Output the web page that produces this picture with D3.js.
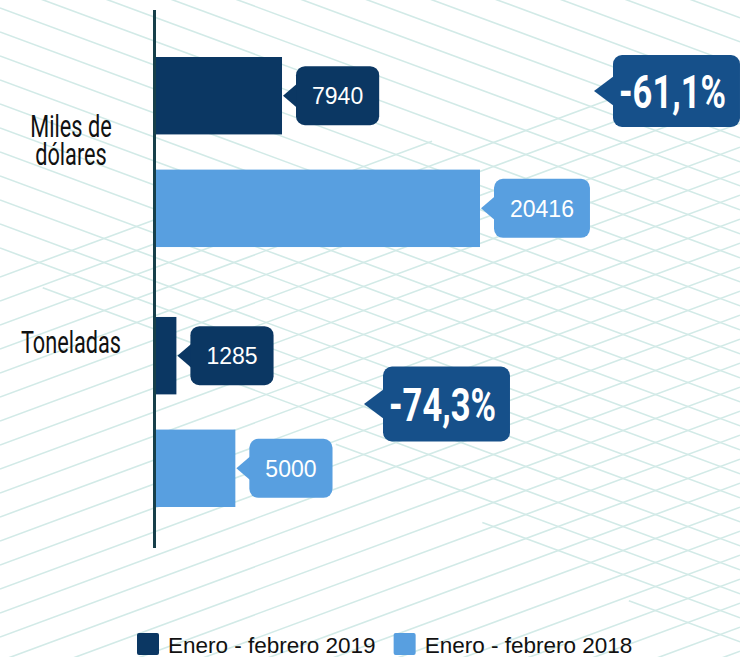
<!DOCTYPE html>
<html>
<head>
<meta charset="utf-8">
<script src="https://cdn.jsdelivr.net/npm/d3@7"></script>
<style>
body { margin: 0; background: #fff; }
svg { display: block; }
</style>
</head>
<body>
<svg id="chart" width="740" height="657"></svg>
<script>
// data
const categories = ["Miles de dólares", "Toneladas"];
const categoryLines = [["Miles de", "dólares"], ["Toneladas"]];
const series = ["Enero - febrero 2019", "Enero - febrero 2018"];
const values2019 = [7940, 1285];
const values2018 = [20416, 5000];
const changes = ["-61,1%", "-74,3%"];

const colors = {"Enero - febrero 2019": "#0b3763", "Enero - febrero 2018": "#589fe0"};
const changeColor = "#16508a";

let width = 740,
    height = 657;

d3.selection.prototype.attrs = function (o) {
    for (let k in o) this.attr(k, o[k]);
    return this;
};

const svg = d3.select("#chart");

// background diamond lines: falling lines on top, rising lines at the bottom / right
function add_background() {
    let slope = 0.37, gap = 24;
    // boundaries: y = a + k * x
    let topEdge = {a: 265, k: 395 / width},
        lowEdge = {a: 262, k: -207 / width};

    let down = d3.range(8 - gap * 14, height + gap, gap).map(b => {
        let x0 = Math.max(0, (b - topEdge.a) / (topEdge.k - slope));
        return {x0: x0, x1: width, b: b, s: slope};
    }).filter(d => d.x0 < d.x1);

    let up = d3.range(13, height + slope * width + gap, gap).map(b => {
        let x1 = Math.min(width, (b - lowEdge.a) / (slope + lowEdge.k));
        return {x0: 0, x1: x1, b: b, s: -slope};
    }).filter(d => d.x0 < d.x1);

    svg.append("g").attr("id", "background")
        .attrs({stroke: "#d2eae7", "stroke-width": 1.6, fill: "none"})
        .selectAll("line")
        .data(down.concat(up))
        .enter().append("line")
        .attrs({
            x1: d => d.x0, y1: d => d.b + d.s * d.x0,
            x2: d => d.x1, y2: d => d.b + d.s * d.x1
        });
}

add_background();

// scales
let rows = [];
categories.forEach((c, i) => {
    rows.push({cat: c, ser: series[0], value: values2019[i]});
    rows.push({cat: c, ser: series[1], value: values2018[i]});
});

let x = d3.scaleLinear()
    .domain([0, d3.max(rows, d => d.value)])
    .range([156, 480]);
let y = d3.scaleBand().domain(categories).range([57, 507]).paddingInner(0.269);
let yi = d3.scaleBand().domain(series).range([0, y.bandwidth()]).paddingInner(0.3125);

// bars
svg.append("g").attr("id", "bars")
    .selectAll("rect")
    .data(rows).enter()
    .append("rect")
    .attrs({
        x: x(0),
        y: d => y(d.cat) + yi(d.ser),
        width: d => x(d.value) - x(0),
        height: yi.bandwidth(),
        fill: d => colors[d.ser]
    });

// axis line
svg.append("line")
    .attrs({x1: x(0) - 1.5, x2: x(0) - 1.5, y1: 10, y2: 548, stroke: "#173f4a", "stroke-width": 3});

// value callouts
let callouts = svg.append("g").attr("id", "callouts")
    .selectAll("g").data(rows).enter().append("g")
    .attr("transform", d => `translate(${x(d.value)},${y(d.cat) + yi(d.ser) + yi.bandwidth() / 2})`);

callouts.each(function (d) {
    let g = d3.select(this);
    let col = colors[d.ser];
    let t = g.append("text")
        .attrs({"font-family": "Liberation Sans, Arial, sans-serif", "font-size": 23, fill: "#fff",
            "text-anchor": "middle", dy: "0.36em"})
        .text(d.value);
    let tw = t.node().getComputedTextLength();
    let bw = tw + 32, bh = 59, left = 14;
    g.insert("path", "text")
        .attrs({d: `M1,0 L${left + 1},-12 L${left + 1},12 Z`, fill: col});
    g.insert("rect", "text")
        .attrs({x: left, y: -bh / 2, width: bw, height: bh, rx: 9, fill: col});
    t.attr("x", left + bw / 2);
});

// percent change callouts (condensed by a horizontal squeeze)
let squeeze = 0.75;
let changePos = [{tip: 594, cy: 91, h: 72}, {tip: 364, cy: 404, h: 75}];
changes.forEach((c, i) => {
    let p = changePos[i];
    let g = svg.append("g").attr("transform", `translate(${p.tip},${p.cy})`);
    let t = g.append("text")
        .attrs({"font-family": "Roboto, sans-serif", "font-weight": 700, "font-size": 46, fill: "#fff",
            "text-anchor": "middle", dy: "0.36em"})
        .text(c);
    let tw = t.node().getComputedTextLength() * squeeze;
    let left = 19, bw = tw + 20;
    t.attr("transform", `translate(${left + bw / 2 - 4},0) scale(${squeeze},1)`);
    g.insert("path", "text")
        .attrs({d: `M0,0 L${left + 1},-15 L${left + 1},15 Z`, fill: changeColor});
    g.insert("rect", "text")
        .attrs({x: left, y: -p.h / 2, width: bw, height: p.h, rx: 9, fill: changeColor});
});

// category labels
let labelY = [139, 341];
categories.forEach((c, i) => {
    let lines = categoryLines[i];
    let t = svg.append("text")
        .attrs({"font-family": "Roboto, sans-serif", "font-size": 31, fill: "#111", "text-anchor": "middle"});
    lines.forEach((l, j) => {
        let ts = t.append("tspan")
            .attrs({x: 71, y: labelY[i] + (j - (lines.length - 1) / 2) * 28 + 12})
            .text(l);
        let w = ts.node().getComputedTextLength() * 0.7;
        ts.attrs({textLength: w, lengthAdjust: "spacingAndGlyphs"});
    });
});

// legend
let lx = 137;
series.forEach(s => {
    svg.append("rect").attrs({x: lx, y: 633, width: 22, height: 22, rx: 2, fill: colors[s]});
    let t = svg.append("text")
        .attrs({x: lx + 31, y: 653, "font-family": "Liberation Sans, Arial, sans-serif", "font-size": 22.5, fill: "#111"})
        .text(s);
    lx += 31 + t.node().getComputedTextLength() + 18;
});
</script>
</body>
</html>
